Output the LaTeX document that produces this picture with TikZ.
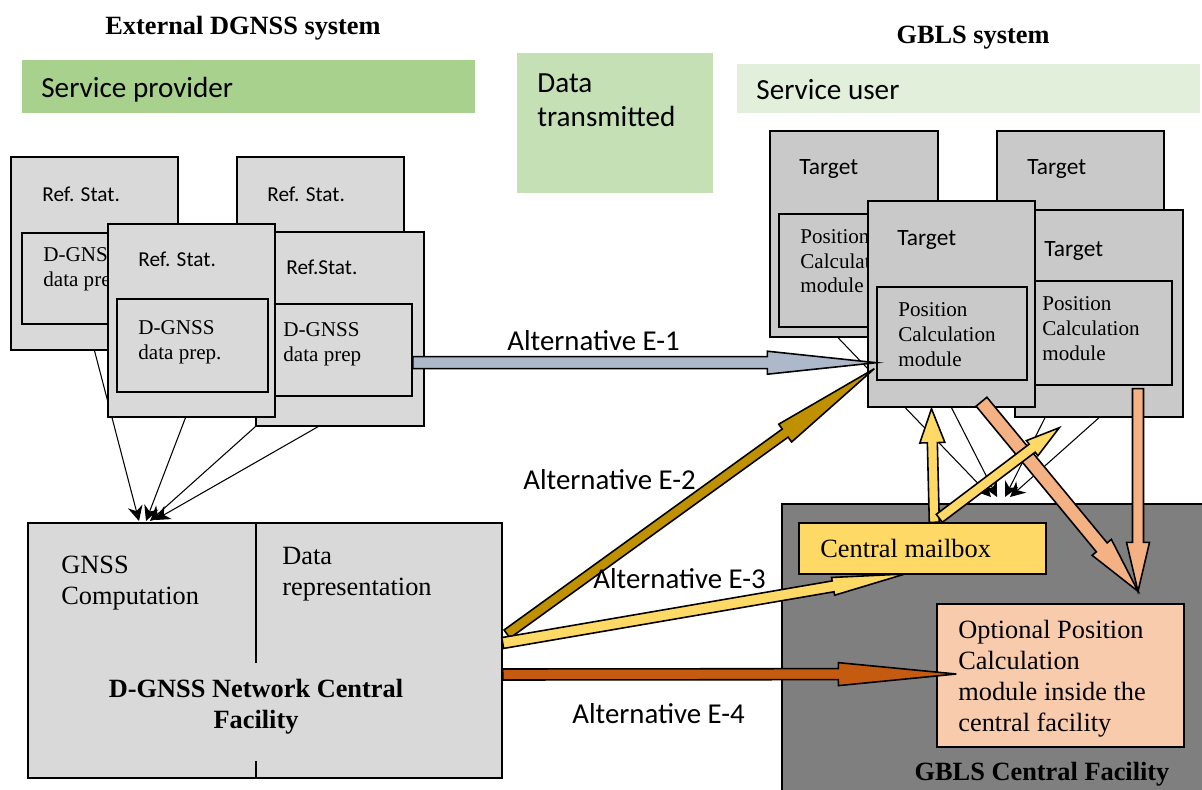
\documentclass[tikz,border=0pt]{standalone}
\usepackage{fontspec}
\setmainfont{Liberation Serif}
\setsansfont{Carlito}
\usetikzlibrary{calc,fit,arrows.meta,backgrounds}

\definecolor{provgreen}{HTML}{A9D18E}
\definecolor{datagreen}{HTML}{C5E0B4}
\definecolor{usergreen}{HTML}{E2EFDA}
\definecolor{refgray}{HTML}{D9D9D9}
\definecolor{tgtgray}{HTML}{C9C9C9}
\definecolor{gblsgray}{HTML}{7F7F7F}
\definecolor{mailyellow}{HTML}{FFD966}
\definecolor{optsalmon}{HTML}{F8CBAD}
\definecolor{arrsalmon}{HTML}{F4B183}
\definecolor{eoneblue}{HTML}{ADB9CA}
\definecolor{etwogold}{HTML}{BF9000}
\definecolor{efourrust}{HTML}{C55A11}

% fat outlined arrow: colour, tail, tip, half shaft, half head, head length
\newcommand{\blockarrow}[6]{%
  \draw[blockline, fill=#1]
    ($(#2)!#4!90:(#3)$) --
    ($(#3)!#6!(#2)!#4!-90:(#2)$) --
    ($(#3)!#6!(#2)!#5!-90:(#2)$) --
    (#3) --
    ($(#3)!#6!(#2)!#5!90:(#2)$) --
    ($(#3)!#6!(#2)!#4!90:(#2)$) --
    ($(#2)!#4!-90:(#3)$) -- cycle;}

\begin{document}
\begin{tikzpicture}[x=0.02cm, y=-0.02cm,
  bar/.style={fill=#1, inner sep=0pt},
  box/.style={draw, line width=0.8pt, fill=#1, inner sep=0pt},
  hd/.style={font=\bfseries\fontsize{15}{17.6}\selectfont, inner sep=0pt, anchor=base, align=center},
  lbl/.style={inner sep=0pt, anchor=base west, align=left},
  bartxt/.style={lbl, font=\sffamily\fontsize{16.6}{19.8}\selectfont},
  stat/.style={lbl, font=\sffamily\fontsize{12.1}{14}\selectfont},
  tgt/.style={lbl, font=\sffamily\fontsize{13.3}{15}\selectfont},
  modtxt/.style={lbl, font=\fontsize{12}{14.2}\selectfont},
  midtxt/.style={lbl, font=\fontsize{15}{17.6}\selectfont},
  alt/.style={lbl, font=\sffamily\fontsize{16.4}{20}\selectfont},
  feed/.style={line width=0.6pt, -{Stealth[length=0.3cm, width=0.3cm]}},
  blockline/.style={line width=0.9pt, line join=miter}]
\useasboundingbox (0,0) rectangle (1202,790);

% titles and bars (multi-line texts sit on their last baseline)
\node[hd] (exthd) at (243,35) {External DGNSS system};
\node[hd] (gblshd) at (973,44) {GBLS system};
\node[bar=provgreen, fit={(22,60) (475,113)}] (prov) {};
\node[bartxt] (provtxt) at (41,98) {Service provider};
\node[bar=datagreen, fit={(517,53) (713,193)}] (data) {};
\node[bartxt] (datatxt) at (537,127) {Data\\transmitted};
\node[bar=usergreen, fit={(737,64) (1200,113)}] (user) {};
\node[bartxt] (usertxt) at (756,100) {Service user};

% GBLS central facility
\node[box=gblsgray, fit={(782,504) (1215,805)}] (gbls) {};
\node[hd] (gblstxt) at (1042,780) {GBLS Central Facility};

% D-GNSS network central facility
\node[box=refgray, fit={(28,523) (502,778)}] (cf) {};
\draw[line width=0.8pt] (256,523) -- (256,663) (256,761) -- (256,778);
\node[midtxt] (gnss) at (61,604) {GNSS\\Computation};
\node[midtxt] (repr) at (282,595) {Data\\representation};
\node[hd] (cftxt) at (256,728) {D-GNSS Network Central\\Facility};

% reference stations
\node[box=refgray, fit={(11,157) (178,350)}] (rs1) {};
\node[box=refgray, fit={(22,233) (160,324)}] (rs1m) {};
\node[stat] (rs1t) at (42,202) {Ref. Stat.};
\node[modtxt] (rs1d) at (43,286) {D-GNSS\\data prep};
\node[box=refgray, fit={(237,157) (404,300)}] (rs2) {};
\node[stat] (rs2t) at (267,202) {Ref. Stat.};
\node[box=refgray, fit={(256,232) (424,426)}] (rs4) {};
\node[box=refgray, fit={(275,304) (412,396)}] (rs4m) {};
\node[stat] (rs4t) at (286,275) {Ref.Stat.};
\node[modtxt] (rs4d) at (283,361) {D-GNSS\\data prep};
\node[box=refgray, fit={(108,224) (275,417)}] (rs3) {};
\node[box=refgray, fit={(117,299) (268,392)}] (rs3m) {};
\node[stat] (rs3t) at (138,267) {Ref. Stat.};
\node[modtxt] (rs3d) at (138,359) {D-GNSS\\data prep.};

% targets
\node[box=tgtgray, fit={(770,131) (938,337)}] (t1) {};
\node[box=tgtgray, fit={(779,214) (900,327)}] (t1m) {};
\node[tgt] (t1t) at (799,175) {Target};
\node[modtxt] (t1d) at (800,293) {Position\\Calculation\\module};
\node[box=tgtgray, fit={(997,131) (1164,250)}] (t2) {};
\node[tgt] (t2t) at (1027,175) {Target};
\node[box=tgtgray, fit={(1015,210) (1183,417)}] (t4) {};
\node[box=tgtgray, fit={(1000,281) (1172,385)}] (t4m) {};
\node[tgt] (t4t) at (1044,256) {Target};
\node[modtxt] (t4d) at (1042,360) {Position\\Calculation\\module};
\node[box=tgtgray, fit={(868,201) (1035,407)}] (t3) {};
\node[box=tgtgray, fit={(877,287) (1027,380)}] (t3m) {};
\node[tgt] (t3t) at (897,246) {Target};
\node[modtxt] (t3d) at (898,366) {Position\\Calculation\\module};

% fan-in lines, kept behind the boxes
\coordinate (cfin) at (146,521);
\coordinate (gin) at (999,497);
\begin{pgfonlayer}{background}
  \draw[feed] (rs1.south) -- ($(cfin)+(-7,0)$);
  \draw[feed] ($(rs3.south)+(-6,0)$) -- (cfin);
  \draw[feed] (rs4.south west) -- ($(cfin)+(4,0)$);
  \draw[feed] ($(rs4.south)+(-22,0)$) -- ($(cfin)+(9,-1)$);
  \draw[feed] ($(t1.south)+(-16,0)$) -- ($(gin)+(-8,0)$);
  \draw[feed] (t3.south) -- ($(gin)+(-2,0)$);
  \draw[feed] ($(t4.south)+(-54,0)$) -- ($(gin)+(6,0)$);
  \draw[feed] (t4.south) -- ($(gin)+(11,0)$);
\end{pgfonlayer}

% optional module
\node[box=optsalmon, fit={(937,604) (1184,747)}] (opt) {};
\node[midtxt] (opttxt) at (958,731) {Optional Position\\Calculation\\module inside the\\central facility};

% alternatives
\coordinate (e1s) at ($(rs4m.south east)+(0,-34)$);
\coordinate (e1e) at ($(t3m.south west)+(0,-18)$);
\coordinate (e2s) at (507,634);
\coordinate (e2e) at ($(t3m.south west)+(-2,-12)$);
\coordinate (e3s) at ($(cf.east)+(0,-7.5)$);
\coordinate (e3e) at (905,574);
\coordinate (e4s) at ($(cf.east)+(0,24)$);
\coordinate (e4e) at ($(opt.west)+(20,-1.5)$);
\blockarrow{eoneblue}{e1s}{e1e}{0.12cm}{0.23cm}{2.18cm}
\blockarrow{etwogold}{e2s}{e2e}{0.1cm}{0.22cm}{2.2cm}
\blockarrow{mailyellow}{e3s}{e3e}{0.11cm}{0.18cm}{1.46cm}
\blockarrow{efourrust}{e4s}{e4e}{0.11cm}{0.23cm}{2.36cm}

% mailbox
\node[box=mailyellow, fit={(799,523) (1046,574)}] (mail) {};
\node[midtxt] (mailtxt) at (820,557) {Central mailbox};

\coordinate (optin) at ($(opt.north)+(77.5,-12)$);
\blockarrow{arrsalmon}{$(t3.south)+(30,-6)$}{optin}{0.14cm}{0.25cm}{1.14cm}
\blockarrow{arrsalmon}{$(t4m.south)+(52,3)$}{optin}{0.11cm}{0.23cm}{0.98cm}
\blockarrow{mailyellow}{$(mail.north west)+(136,0)$}{$(t3.south)+(-20,1)$}{0.1cm}{0.25cm}{0.68cm}
\blockarrow{mailyellow}{$(mail.north west)+(141,-4)$}{$(t4.south west)+(45,10)$}{0.1cm}{0.19cm}{0.68cm}

\node[alt] (e1lbl) at (507,350) {Alternative E-1};
\node[alt] (e2lbl) at (523,489) {Alternative E-2};
\node[alt] (e3lbl) at (593,588) {Alternative E-3};
\node[alt] (e4lbl) at (572,723) {Alternative E-4};
\end{tikzpicture}
\end{document}
